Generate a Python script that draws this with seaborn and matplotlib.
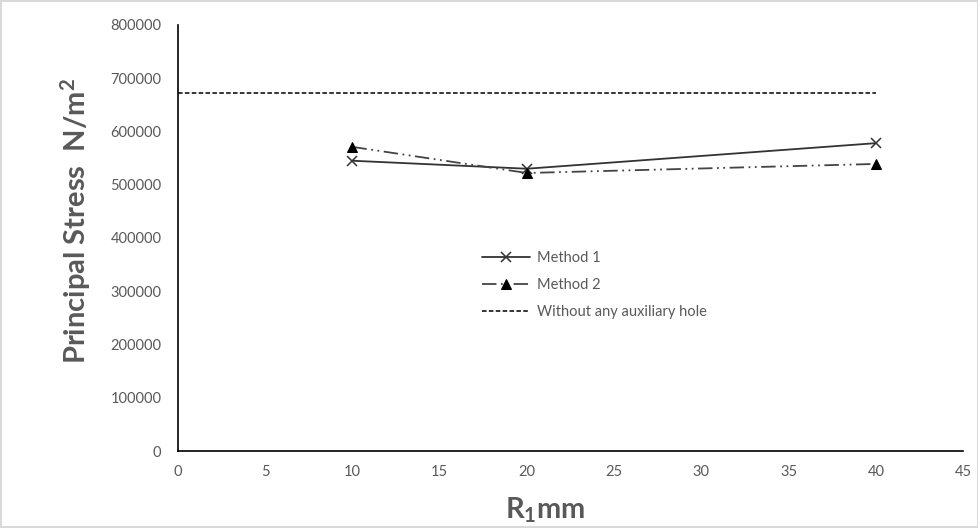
import pandas as pd
import matplotlib
matplotlib.use('Agg')
import matplotlib.pyplot as plt
import seaborn as sns

# data
r1_mm = [10, 20, 40]
method1 = [545000, 530000, 578000]
method2 = [571000, 522000, 539000]
no_hole_x = [0, 40]
no_hole_y = [672000, 672000]

sns.set_style('white')
plt.rcParams['font.family'] = ['Lato', 'DejaVu Sans']
plt.rcParams['mathtext.default'] = 'regular'

df1 = pd.DataFrame({'R1': r1_mm, 'stress': method1})
df2 = pd.DataFrame({'R1': r1_mm, 'stress': method2})
df3 = pd.DataFrame({'R1': no_hole_x, 'stress': no_hole_y})

fig = plt.figure(figsize=(9.79, 5.28), dpi=100)
fig.patch.set_edgecolor('#d9d9d9')
fig.patch.set_linewidth(1.5)
ax = fig.add_axes([0.1818, 0.1458, 0.802, 0.807])

sns.lineplot(data=df1, x='R1', y='stress', ax=ax, color='#333333', lw=1.3,
             marker='x', markersize=7, markeredgewidth=1.1,
             markeredgecolor='#333333', label='Method 1')
sns.lineplot(data=df2, x='R1', y='stress', ax=ax, color='#444444', lw=1.3,
             linestyle=(0, (8, 2.5, 1, 2.5, 1, 2.5)), marker='^', markersize=7,
             markerfacecolor='black', markeredgecolor='black', label='Method 2')
sns.lineplot(data=df3, x='R1', y='stress', ax=ax, color='black', lw=1.1,
             linestyle=(0, (3, 1.5)), label='Without any auxiliary hole')

ax.set_xlim(0, 45)
ax.set_ylim(0, 800000)
ax.set_xticks(range(0, 46, 5))
ax.set_yticks(range(0, 800001, 100000))
ax.tick_params(labelsize=10.5, colors='#595959', length=0)
ax.tick_params(axis='y', pad=12)
ax.tick_params(axis='x', pad=10)
for s in ['top', 'right']:
    ax.spines[s].set_visible(False)
for s in ['left', 'bottom']:
    ax.spines[s].set_color('black')
    ax.spines[s].set_linewidth(1.2)

ax.set_xlabel('R$_1$mm', fontsize=21, fontweight='bold', color='#595959')
ax.xaxis.set_label_coords(0.4675, -0.105)
ax.set_ylabel('Principal Stress  N/m$^2$', fontsize=21, fontweight='bold',
              color='#595959')
ax.yaxis.set_label_coords(-0.108, 0.54)

leg = ax.legend(loc='upper left', bbox_to_anchor=(0.37, 0.50), frameon=False,
                fontsize=10.5, handlelength=3.3, labelspacing=0.9, handletextpad=0.5)
for t in leg.get_texts():
    t.set_color('#595959')

plt.savefig('out.png', dpi=100)
plt.close()
